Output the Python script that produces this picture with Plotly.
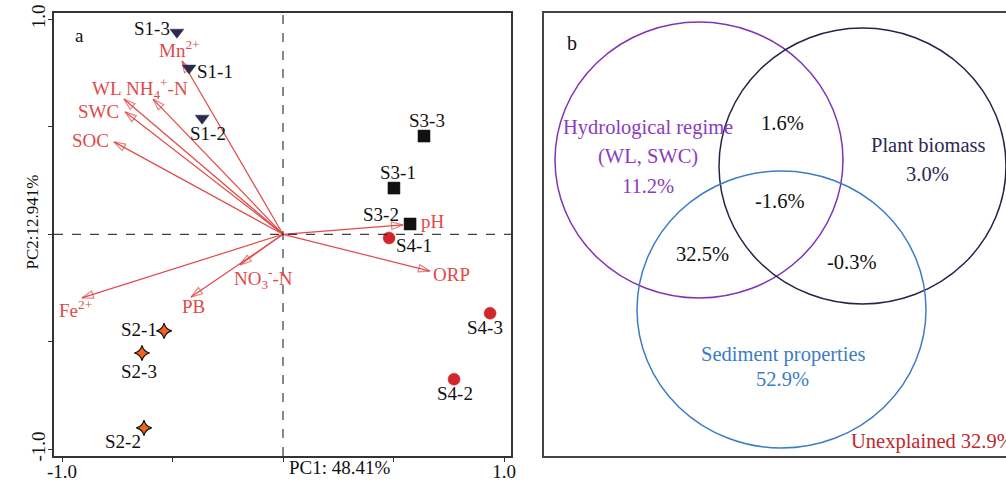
import plotly.graph_objects as go

# ---------------- data: PCA biplot (panel a) ----------------
sample_names = ["S1-1", "S1-2", "S1-3", "S2-1", "S2-2", "S2-3",
                "S3-1", "S3-2", "S3-3", "S4-1", "S4-2", "S4-3"]
sample_pc1 = [-0.425, -0.366, -0.480, -0.538, -0.629, -0.638,
              0.502, 0.575, 0.638, 0.480, 0.774, 0.937]
sample_pc2 = [0.773, 0.540, 0.940, -0.449, -0.900, -0.552,
              0.215, 0.048, 0.457, -0.017, -0.674, -0.367]
sample_group = ["S1", "S1", "S1", "S2", "S2", "S2",
                "S3", "S3", "S3", "S4", "S4", "S4"]

var_names = ["Mn<sup>2+</sup>", "WL", "NH<sub>4</sub><sup>+</sup>-N", "SWC", "SOC",
             "pH", "ORP", "Fe<sup>2+</sup>", "PB", "NO<sub>3</sub><sup>-</sup>-N"]
var_pc1 = [-0.457, -0.720, -0.588, -0.715, -0.765, 0.543, 0.665, -0.910, -0.416, -0.195]
var_pc2 = [0.806, 0.629, 0.629, 0.570, 0.430, 0.044, -0.171, -0.296, -0.292, -0.142]

x_ticks = [-1.0, -0.5, 0.0, 0.5, 1.0]
x_ticklabels = ["-1.0", " ", " ", " ", "1.0"]
y_ticks = [-1.0, -0.5, 0.0, 0.5, 1.0]
y_ticklabels = ["-1.0", " ", " ", " ", "1.0"]

# ---------------- data: variation partitioning (panel b) ----------------
venn_sets = ["Hydrological regime", "Plant biomass", "Sediment properties"]
venn_cx = [155.0, 318.5, 237.5]
venn_cy = [296.0, 290.0, 146.5]
venn_rx = [144.0, 143.5, 144.5]
venn_ry = [138.0, 138.0, 138.5]

venn_labels = ["Hydrological regime", "(WL, SWC)", "11.2%", "1.6%", "Plant biomass",
               "3.0%", "-1.6%", "32.5%", "-0.3%", "Sediment properties", "52.9%"]
venn_lx = [104, 104, 104, 238, 384, 383, 236, 158, 308, 239, 238]
venn_ly = [329, 300, 270, 333, 311, 282, 255, 202, 194, 102, 77]
unexplained = "Unexplained 32.9%"

# ---------------- styles ----------------
FONT = "Liberation Serif, Times New Roman, serif"
RED = "#e04a4a"
group_style = {
    "S1": dict(symbol="triangle-down", color="#2a2b4d", line=dict(color="#2a2b4d", width=0.5), size=12),
    "S2": dict(symbol="star-diamond", color="#f0641e", line=dict(color="#111111", width=1.2), size=11),
    "S3": dict(symbol="square", color="#111111", line=dict(color="#111111", width=0.5), size=12),
    "S4": dict(symbol="circle", color="#d3262b", line=dict(color="#d3262b", width=0.5), size=12),
}
# label offsets (px) for sample labels and variable labels
sample_shift = [(26, -3), (6, -15), (-25, 4), (-25, 1), (-21, -14), (-3, -19),
                (4, 16), (-29, 9), (3, 16), (25, -8), (1, -14), (-5, -14)]
var_shift = [(-3, 12), (-17, 11), (4, 11), (-26, 0), (-23, 1),
             (30, 3), (22, -3), (-6, -11), (2, -9), (24, -14)]
venn_colors = ["#7f33b8", "#24244a", "#3b7cc6"]
venn_text_colors = ["#8a3cc0", "#8a3cc0", "#8a3cc0", "#111111", "#2a2a55",
                    "#2a2a55", "#111111", "#111111", "#111111", "#3b7cc6", "#3b7cc6"]

W, H = 1006, 489
fig = go.Figure()

# variable arrows
for i in range(len(var_names)):
    fig.add_trace(go.Scatter(
        x=[0, var_pc1[i]], y=[0, var_pc2[i]], mode="lines+markers",
        line=dict(color=RED, width=1.2),
        marker=dict(symbol=["circle", "arrow-open"], size=[0, 12], angleref="previous",
                    color=RED, line=dict(color=RED, width=1.2)),
        hoverinfo="skip", showlegend=False, cliponaxis=False, xaxis="x", yaxis="y"))

# samples
for g in ["S1", "S2", "S3", "S4"]:
    idx = [i for i, s in enumerate(sample_group) if s == g]
    st = group_style[g]
    fig.add_trace(go.Scatter(
        x=[sample_pc1[i] for i in idx], y=[sample_pc2[i] for i in idx], mode="markers",
        marker=dict(symbol=st["symbol"], color=st["color"], size=st["size"], line=st["line"]),
        name=g, showlegend=False, cliponaxis=False, xaxis="x", yaxis="y"))

annotations = []
for i, n in enumerate(sample_names):
    dx, dy = sample_shift[i]
    annotations.append(dict(x=sample_pc1[i], y=sample_pc2[i], xref="x", yref="y", text=n,
                            showarrow=False, xshift=dx, yshift=dy,
                            font=dict(family=FONT, size=19, color="#111111")))
for i, n in enumerate(var_names):
    dx, dy = var_shift[i]
    annotations.append(dict(x=var_pc1[i], y=var_pc2[i], xref="x", yref="y", text=n,
                            showarrow=False, xshift=dx, yshift=dy,
                            font=dict(family=FONT, size=19, color=RED)))
# panel letters and axis titles
annotations.append(dict(x=-0.92, y=0.925, xref="x", yref="y", text="a", showarrow=False,
                        font=dict(family=FONT, size=19, color="#111111")))
annotations.append(dict(x=287 / W, y=1 - 480 / H, xref="paper", yref="paper", text="PC1: 48.41%",
                        showarrow=False, font=dict(family=FONT, size=19, color="#111111")))
annotations.append(dict(x=20 / W, y=1 - 222 / H, xref="paper", yref="paper", text="PC2:12.941%",
                        textangle=-90, showarrow=False,
                        font=dict(family=FONT, size=17, color="#111111")))

# Venn labels
annotations.append(dict(x=28, y=413, xref="x2", yref="y2", text="b", showarrow=False,
                        font=dict(family=FONT, size=20, color="#111111")))
for i, t in enumerate(venn_labels):
    annotations.append(dict(x=venn_lx[i], y=venn_ly[i], xref="x2", yref="y2", text=t,
                            showarrow=False,
                            font=dict(family=FONT, size=20.5, color=venn_text_colors[i])))
annotations.append(dict(x=305, y=15, xref="x2", yref="y2", text=unexplained, xanchor="left",
                        showarrow=False, font=dict(family=FONT, size=20.5, color="#c0282d")))

shapes = [
    dict(type="line", xref="x", yref="y domain", x0=0, x1=0, y0=0, y1=1,
         line=dict(color="#111111", width=1, dash="dash")),
    dict(type="line", xref="x domain", yref="y", x0=0, x1=1, y0=0, y1=0,
         line=dict(color="#111111", width=1, dash="dash")),
]
for i in range(3):
    shapes.append(dict(type="circle", xref="x2", yref="y2",
                       x0=venn_cx[i] - venn_rx[i], x1=venn_cx[i] + venn_rx[i],
                       y0=venn_cy[i] - venn_ry[i], y1=venn_cy[i] + venn_ry[i],
                       line=dict(color=venn_colors[i], width=1.5)))

x_lo, x_hi = (54 - 283) / 221, (511 - 283) / 221
y_hi, y_lo = (234.3 - 13) / 215, (234.3 - 456) / 215

fig.update_layout(
    width=W, height=H, margin=dict(l=0, r=0, t=0, b=0, autoexpand=False),
    paper_bgcolor="white", plot_bgcolor="white",
    font=dict(family=FONT, size=19, color="#111111"),
    xaxis=dict(domain=[54 / W, 511 / W], range=[x_lo, x_hi], tickvals=x_ticks, ticktext=x_ticklabels,
               showline=True, mirror=True, linecolor="#333333", linewidth=1.5, automargin=False,
               ticks="outside", ticklen=4, tickcolor="#333333", showgrid=False, zeroline=False,
               ticklabelstandoff=-7,
               tickfont=dict(family=FONT, size=19, color="#111111")),
    yaxis=dict(domain=[1 - 456 / H, 1 - 13 / H], range=[y_lo, y_hi], tickvals=y_ticks, ticktext=y_ticklabels,
               showline=True, mirror=True, linecolor="#333333", linewidth=1.5, tickangle=-90,
               automargin=False, ticklabelstandoff=-4,
               ticks="outside", ticklen=4, tickcolor="#333333", showgrid=False, zeroline=False,
               tickfont=dict(family=FONT, size=19, color="#111111")),
    xaxis2=dict(domain=[544 / W, 1], range=[0, 462], showline=True, mirror=True, linecolor="#444444",
                linewidth=1.5, showticklabels=False, ticks="", showgrid=False, zeroline=False,
                anchor="y2", automargin=False),
    yaxis2=dict(domain=[1 - 456 / H, 1 - 13 / H], range=[0, 443], showline=True, mirror=False,
                linecolor="#444444", linewidth=1.5, showticklabels=False, ticks="", showgrid=False,
                zeroline=False, anchor="x2", automargin=False),
    annotations=annotations, shapes=shapes,
)
# invisible trace to activate the second axes
fig.add_trace(go.Scatter(x=[0], y=[0], mode="markers", marker=dict(opacity=0), xaxis="x2", yaxis="y2",
                         showlegend=False, hoverinfo="skip"))

fig.write_html("out.html", config={"displayModeBar": False},
               post_script="document.body.style.margin='0';document.body.style.overflow='hidden';")
